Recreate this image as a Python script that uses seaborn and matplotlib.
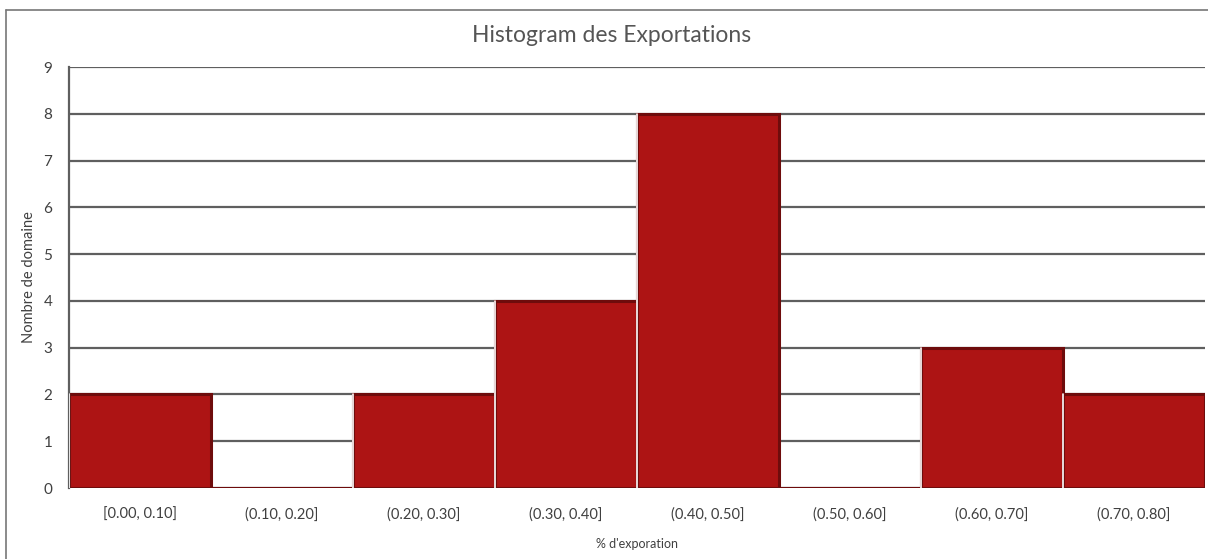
import matplotlib
matplotlib.use("Agg")
import matplotlib.pyplot as plt
import seaborn as sns
import pandas as pd

# Data
intervals = ['[0.00, 0.10]', '(0.10, 0.20]', '(0.20, 0.30]', '(0.30, 0.40]',
             '(0.40, 0.50]', '(0.50, 0.60]', '(0.60, 0.70]', '(0.70, 0.80]']
counts = [2, 0, 2, 4, 8, 0, 3, 2]
y_ticks = list(range(0, 10))

df = pd.DataFrame({'Intervalle': intervals, 'Nombre': counts})

sns.set_style('white')
plt.rcParams['font.family'] = ['Lato', 'DejaVu Sans']

fig = plt.figure(figsize=(12.08, 5.59), dpi=100)
ax = fig.add_axes([0.0571, 0.127, 0.9405, 0.753])

# Draw grid first so bars cover it
for y in y_ticks:
    ax.axhline(y, color='#5f5f5f', linewidth=1.6, zorder=0)

sns.barplot(data=df, x='Intervalle', y='Nombre', color='#ad1414', width=1.0,
            saturation=1, edgecolor='#6e0c0c', linewidth=2.2, ax=ax, zorder=2)
# thin white separators between bars
for p in ax.patches:
    p.set_joinstyle('miter')
    x0 = p.get_x()
    h = p.get_height()
    if h > 0:
        ax.plot([x0, x0], [0, h], color='white', linewidth=1.2, zorder=3)

ax.set_xlim(-0.5, len(intervals) - 0.5)
ax.set_ylim(0, 9)
ax.set_yticks(y_ticks)
ax.tick_params(axis='both', length=0, colors='#404040')
ax.tick_params(axis='y', labelsize=11, pad=12)
ax.tick_params(axis='x', labelsize=10.5, pad=14)

for s in ['top', 'right', 'bottom']:
    ax.spines[s].set_visible(False)
ax.spines['left'].set_color('#5f5f5f')
ax.spines['left'].set_linewidth(1.6)

ax.set_xlabel("% d'exporation", fontsize=9, color='#404040', labelpad=12)
ax.set_ylabel('Nombre de domaine', fontsize=10.5, color='#404040', labelpad=5)
fig.text(0.506, 0.937, 'Histogram des Exportations', ha='center', va='center',
         fontsize=16.5, color='#555555')

# outer frame lines (left and top)
fig.add_artist(plt.Line2D([0.005, 0.005], [0, 0.982], transform=fig.transFigure,
                          color='#777777', linewidth=1.2))
fig.add_artist(plt.Line2D([0.005, 1.0], [0.982, 0.982], transform=fig.transFigure,
                          color='#777777', linewidth=1.2))

fig.savefig('out.png', dpi=100)
